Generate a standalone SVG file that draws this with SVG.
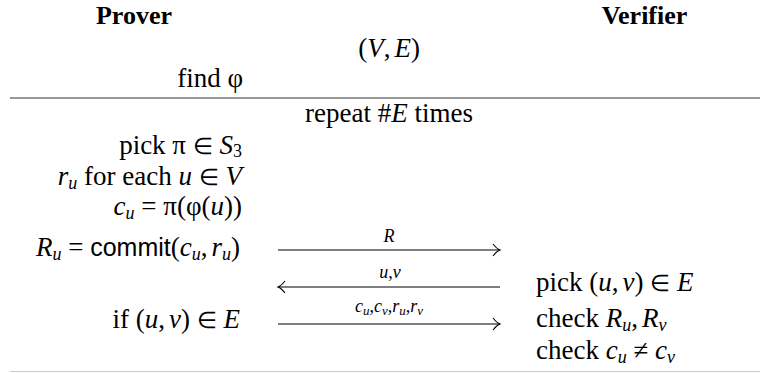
<svg xmlns="http://www.w3.org/2000/svg" width="761" height="373" viewBox="0 0 761 373">
<style>
.t{font-family:"Liberation Serif",serif;font-size:27px;fill:#000}
.i{font-style:italic}
.b{font-weight:bold;font-size:26px}
.sf{font-family:"Liberation Sans",sans-serif;font-size:25px}
.s{font-size:18px}
.m{font-size:23px}
.l{font-family:"Liberation Serif",serif;font-size:18px;font-style:italic;fill:#000}
.ls{font-size:13px}
.ar{stroke:#000;stroke-width:1.2;fill:none}
</style>
<defs>
<marker id="ah" markerUnits="userSpaceOnUse" viewBox="-9 -8 11 16" markerWidth="11" markerHeight="16" refX="0" refY="0" orient="auto-start-reverse">
<path d="M-7,-6 Q-3,-1 0,0 Q-3,1 -7,6" fill="none" stroke="#000" stroke-width="1.1"/>
</marker>
</defs>
<rect width="761" height="373" fill="#fff"/>
<g id="prover">
<text class="t b" x="134" y="24" text-anchor="middle">Prover</text>
<text class="t" x="243" y="87" text-anchor="end">find φ</text>
<text class="t" x="242" y="154" text-anchor="end">pick π <tspan class="m">∈</tspan> <tspan class="i">S</tspan><tspan class="s" dy="3">3</tspan></text>
<text class="t" x="242" y="185" text-anchor="end"><tspan class="i">r</tspan><tspan class="s i" dy="4">u</tspan><tspan dy="-4"> for each </tspan><tspan class="i">u</tspan> <tspan class="m">∈</tspan> <tspan class="i">V</tspan></text>
<text class="t" x="242" y="215" text-anchor="end"><tspan class="i">c</tspan><tspan class="s i" dy="4">u</tspan><tspan dy="-4"> = π(φ(</tspan><tspan class="i">u</tspan>))</text>
<text class="t" x="240" y="256" text-anchor="end"><tspan class="i">R</tspan><tspan class="s i" dy="4">u</tspan><tspan dy="-4"> = </tspan><tspan class="sf">commit</tspan>(<tspan class="i">c</tspan><tspan class="s i" dy="4">u</tspan><tspan dy="-4">,</tspan><tspan class="i" dx="4">r</tspan><tspan class="s i" dy="4">u</tspan><tspan dy="-4">)</tspan></text>
<text class="t" x="240" y="328" text-anchor="end">if (<tspan class="i">u</tspan>,<tspan class="i" dx="4">v</tspan>) <tspan class="m">∈</tspan> <tspan class="i">E</tspan></text>
</g>
<g id="verifier">
<text class="t b" x="644.5" y="24" text-anchor="middle">Verifier</text>
<text class="t" x="536" y="291">pick (<tspan class="i">u</tspan>,<tspan class="i" dx="4">v</tspan>) <tspan class="m">∈</tspan> <tspan class="i">E</tspan></text>
<text class="t" x="536" y="327">check <tspan class="i">R</tspan><tspan class="s i" dy="4">u</tspan><tspan dy="-4">,</tspan><tspan class="i" dx="4">R</tspan><tspan class="s i" dy="4">v</tspan></text>
<text class="t" x="536" y="359">check <tspan class="i">c</tspan><tspan class="s i" dy="4">u</tspan><tspan dy="-4"> ≠ </tspan><tspan class="i">c</tspan><tspan class="s i" dy="4">v</tspan></text>
</g>
<g id="shared">
<text class="t" x="389" y="57" text-anchor="middle">(<tspan class="i">V</tspan>,<tspan class="i" dx="4">E</tspan>)</text>
<line x1="10" y1="98" x2="760" y2="98" stroke="#333" stroke-width="1.2"/>
<text class="t" x="389" y="122" text-anchor="middle">repeat #<tspan class="i">E</tspan> times</text>
<line x1="10" y1="371.5" x2="760" y2="371.5" stroke="#ccc" stroke-width="1.2"/>
</g>
<g id="connectors">
<line class="ar" x1="278" y1="250" x2="500" y2="250" marker-end="url(#ah)"/>
<text class="l" x="389" y="242" text-anchor="middle">R</text>
<line class="ar" x1="278" y1="287" x2="500" y2="287" marker-start="url(#ah)"/>
<text class="l" x="390" y="278" text-anchor="middle">u,v</text>
<line class="ar" x1="278" y1="324" x2="500" y2="324" marker-end="url(#ah)"/>
<text class="l" x="389" y="312" text-anchor="middle">c<tspan class="ls" dy="3">u</tspan><tspan dy="-3">,c</tspan><tspan class="ls" dy="3">v</tspan><tspan dy="-3">,r</tspan><tspan class="ls" dy="3">u</tspan><tspan dy="-3">,r</tspan><tspan class="ls" dy="3">v</tspan></text>
</g>
</svg>
